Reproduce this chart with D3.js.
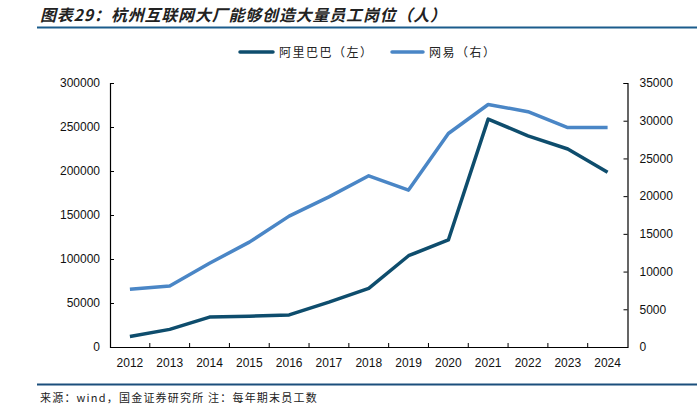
<!DOCTYPE html>
<html><head><meta charset="utf-8">
<script src="https://cdn.jsdelivr.net/npm/d3@7"></script>
<style>
body{margin:0;background:#fff;}
svg{display:block;}
</style></head>
<body>
<svg id="c" width="697" height="415"></svg>
<script>
const years = ["2012","2013","2014","2015","2016","2017","2018","2019","2020","2021","2022","2023","2024"];
const alibaba = [12000,20000,34000,35000,36500,51000,66700,103700,121600,259000,240000,225000,198500];
const netease = [7650,8100,11100,13900,17350,19900,22700,20800,28300,32150,31200,29100,29100];
const leftTicks = [0,50000,100000,150000,200000,250000,300000];
const rightTicks = [0,5000,10000,15000,20000,25000,30000,35000];
const titleText = "图表29：杭州互联网大厂能够创造大量员工岗位（人）";
const sourceText = "来源：wind，国金证券研究所 注：每年期末员工数";
const seriesNames = ["阿里巴巴（左）","网易（右）"];
const colors = ["#0e4d6d","#4a86c6"];

const svg = d3.select("#c");
const L = 110, R = 627.5, T = 83, B = 347;
const font = "'Liberation Sans', Arial, sans-serif";
const cjk = "'Noto Sans CJK SC', sans-serif";

// title
svg.append("text").attr("x",40).attr("y",21)
  .attr("font-family",cjk).attr("font-size",16).attr("font-weight","bold")
  .attr("font-style","italic").attr("letter-spacing",0.8)
  .attr("fill","#222").text(titleText);
svg.append("line").attr("x1",37).attr("x2",697).attr("y1",27.5).attr("y2",27.5)
  .attr("stroke","#1b5c8c").attr("stroke-width",2);

const x = d3.scaleBand().domain(years).range([L,R]);
const yL = d3.scaleLinear().domain([0,300000]).range([B,T]);
const yR = d3.scaleLinear().domain([0,35000]).range([B,T]);

// axes
const gx = svg.append("g").attr("transform",`translate(0,${B})`)
  .call(d3.axisBottom(x).tickSize(0).tickPadding(11));
gx.select(".domain").attr("stroke","#000").attr("stroke-width",1.2);
gx.selectAll("text").attr("font-family",font).attr("font-size",12).attr("fill","#111");
const bounds = years.slice(1).map(d=>x(d));
svg.append("g").selectAll("line").data(bounds).join("line")
  .attr("x1",d=>d).attr("x2",d=>d).attr("y1",B).attr("y2",B-4)
  .attr("stroke","#000").attr("stroke-width",1);

const gl = svg.append("g").attr("transform",`translate(${L},0)`)
  .call(d3.axisLeft(yL).tickValues(leftTicks).tickSize(-4).tickPadding(10).tickFormat(d3.format("d")));
gl.select(".domain").attr("stroke","#000").attr("stroke-width",1.2);
gl.selectAll("line").attr("stroke","#000");
gl.selectAll("text").attr("font-family",font).attr("font-size",12).attr("fill","#111");

const gr = svg.append("g").attr("transform",`translate(${R},0)`)
  .call(d3.axisRight(yR).tickValues(rightTicks).tickSize(-4).tickPadding(12).tickFormat(d3.format("d")));
gr.select(".domain").attr("stroke","#000").attr("stroke-width",1.2);
gr.selectAll("line").attr("stroke","#000");
gr.selectAll("text").attr("font-family",font).attr("font-size",12).attr("fill","#111");

// lines
const cx = d=>x(d)+x.bandwidth()/2;
const lineL = d3.line().x((d,i)=>cx(years[i])).y(d=>yL(d));
const lineR = d3.line().x((d,i)=>cx(years[i])).y(d=>yR(d));
svg.append("path").datum(netease).attr("d",lineR).attr("fill","none")
  .attr("stroke",colors[1]).attr("stroke-width",3.5).attr("stroke-linejoin","round");
svg.append("path").datum(alibaba).attr("d",lineL).attr("fill","none")
  .attr("stroke",colors[0]).attr("stroke-width",3.5).attr("stroke-linejoin","round");

// legend
const leg = [{x1:240,x2:273,tx:279},{x1:392,x2:423,tx:429}];
leg.forEach((l,i)=>{
  svg.append("line").attr("x1",l.x1).attr("x2",l.x2).attr("y1",52).attr("y2",52)
    .attr("stroke",colors[i]).attr("stroke-width",3.5).attr("stroke-linecap","round");
  svg.append("text").attr("x",l.tx).attr("y",56.5).attr("font-family",cjk)
    .attr("font-size",12).attr("letter-spacing",1.5).attr("fill","#222").text(seriesNames[i]);
});

// footer
svg.append("line").attr("x1",37).attr("x2",697).attr("y1",384.5).attr("y2",384.5)
  .attr("stroke","#1b4f7c").attr("stroke-width",2);
svg.append("text").attr("x",40).attr("y",402).attr("font-family",cjk)
  .attr("font-size",11).attr("letter-spacing",1.2).attr("fill","#222").text(sourceText);
</script>
</body></html>
